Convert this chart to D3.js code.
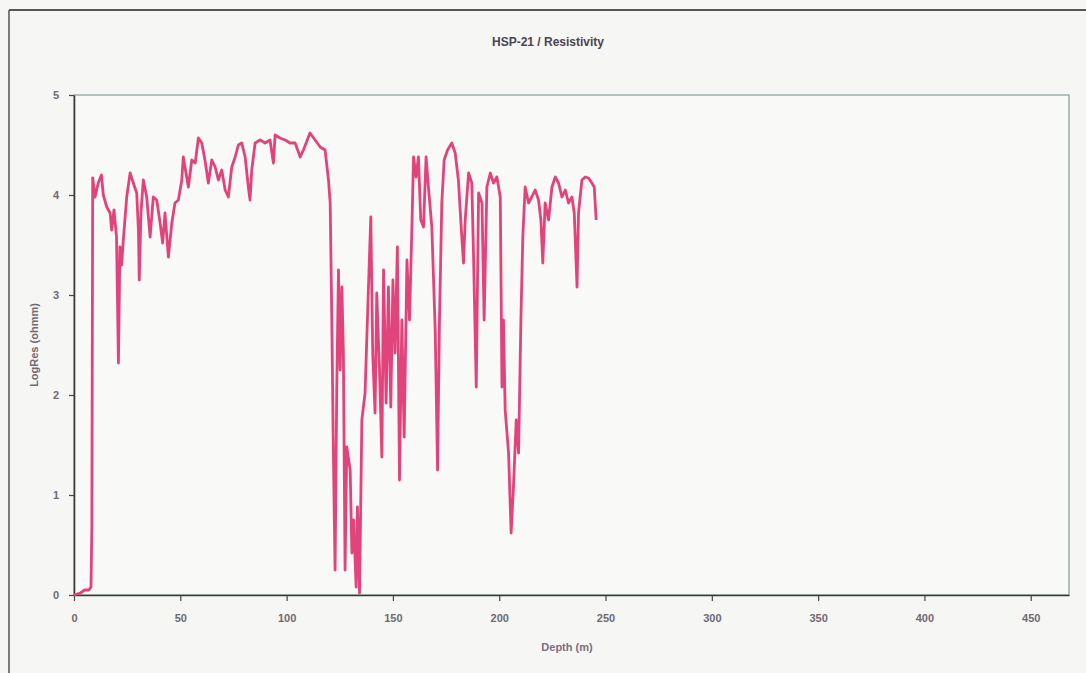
<!DOCTYPE html>
<html>
<head>
<meta charset="UTF-8">
<title>HSP-21 / Resistivity</title>
<script src="https://d3js.org/d3.v7.min.js"></script>
<style>
  body { margin: 0; background: #f6f6f4; }
  svg { display: block; font-family: "Liberation Sans", Arial, sans-serif; }
</style>
</head>
<body>
<svg id="chart"></svg>
<script>
const width = 1086;
const height = 673;
const margins = {top: 95, bottom: 78, left: 74, right: 17};

const depth = [0, 3, 5, 7, 8, 8.4, 8.8, 9.9, 11.4, 12.9, 13.8, 15.4, 17, 17.7, 18.8, 20, 20.9, 21.6, 22.4, 23.2,
  24.8, 26.4, 27.9, 29.5, 30.3, 30.7, 31.5, 32.6, 34.2, 35.8, 37.3, 38.9, 40.5, 41.7, 42.8, 44.4, 46, 47.5, 49.1,
  50.7, 51.4, 53.8, 55.4, 57, 58.5, 60.1, 61.6, 63.2, 64.8, 66.4, 67.9, 69.5, 71.1, 72.6, 74.2, 75.8, 77.3, 78.9,
  80.5, 82, 82.8, 83.6, 85.2, 87.5, 89.9, 92.2, 93.8, 94.6, 96.9, 99.3, 101.6, 104, 106.4, 107.9, 111, 113.4,
  115.8, 118.1, 119.7, 120.5, 121.3, 122, 122.8, 123.6, 124.4, 125.2, 126, 126.7, 127.5, 128.3, 129.9, 130.7,
  131.5, 132.7, 133.3, 134.3, 135.4, 136.9, 138.5, 139.6, 140.5, 141.6, 142.4, 143.7, 144.8, 145.6, 146.8,
  147.9, 149, 150, 151, 152.1, 153.1, 154.2, 155.3, 156.6, 157.8, 158.9, 159.7, 160.9, 162, 163.1, 164.4,
  165.6, 166.7, 168.3, 169.9, 171, 171.9, 173, 174.1, 175.7, 177.7, 179.3, 180.8, 182.4, 183.2, 184, 185.6,
  187.1, 187.9, 189.2, 190.3, 191.9, 192.9, 194.2, 195.8, 197.3, 198.9, 200.5, 201.3, 202, 202.8, 204.4,
  205.6, 206.7, 208, 209.1, 210.2, 211.1, 212.2, 213.8, 215.3, 216.9, 218.5, 219.6, 220.5, 221.6, 223.2,
  224.8, 226.4, 227.9, 229.5, 231.1, 232.6, 234.2, 235.3, 236.6, 237.3, 238.9, 240.5, 242, 243.6, 244.7, 245.6];
const logRes = [0, 0.02, 0.05, 0.05, 0.08, 0.7, 4.17, 3.98, 4.12, 4.2, 4.0, 3.88, 3.82, 3.65, 3.85, 3.58, 2.32, 3.48, 3.3, 3.55,
  3.98, 4.22, 4.12, 4.02, 3.65, 3.15, 3.82, 4.15, 3.98, 3.58, 3.98, 3.95, 3.72, 3.52, 3.82, 3.38, 3.72, 3.92, 3.95,
  4.15, 4.38, 4.08, 4.35, 4.32, 4.57, 4.52, 4.35, 4.12, 4.35, 4.28, 4.15, 4.25, 4.05, 3.98, 4.28, 4.38, 4.5, 4.52,
  4.38, 4.08, 3.95, 4.25, 4.52, 4.55, 4.52, 4.55, 4.32, 4.6, 4.57, 4.55, 4.52, 4.52, 4.38, 4.45, 4.62, 4.55,
  4.48, 4.45, 4.15, 3.92, 2.68, 1.42, 0.25, 2.08, 3.25, 2.25, 3.08, 2.42, 0.25, 1.48, 1.25, 0.42,
  0.75, 0.08, 0.88, 0.02, 1.75, 2.02, 3.08, 3.78, 2.42, 1.82, 3.02, 2.25, 1.38, 3.25, 1.92,
  3.08, 1.88, 3.15, 2.42, 3.48, 1.15, 2.75, 1.58, 3.35, 2.75, 3.65, 4.38, 4.18, 4.38, 3.75, 3.68,
  4.38, 4.08, 3.68, 2.65, 1.25, 2.75, 3.92, 4.35, 4.45, 4.52, 4.42, 4.15, 3.58, 3.32, 3.75, 4.22,
  4.12, 3.42, 2.08, 4.02, 3.92, 2.75, 4.08, 4.22, 4.12, 4.18, 3.98, 2.08, 2.75, 1.85, 1.42,
  0.62, 1.08, 1.75, 1.42, 2.75, 3.58, 4.08, 3.92, 3.98, 4.05, 3.95, 3.75, 3.32, 3.92, 3.75,
  4.08, 4.18, 4.12, 3.98, 4.05, 3.92, 3.98, 3.82, 3.08, 3.82, 4.15, 4.18, 4.17, 4.12, 4.08, 3.75];
const xTicks = [0, 50, 100, 150, 200, 250, 300, 350, 400, 450];
const yTicks = [0, 1, 2, 3, 4, 5];

const data = depth.map((d, i) => ({depth: d, res: logRes[i]}));

const svg = d3.select("#chart")
  .attr("width", width)
  .attr("height", height);

// outer chart border (top and left edges visible in the scan)
svg.append("line")
  .attr("x1", 9).attr("x2", width).attr("y1", 10).attr("y2", 10)
  .attr("stroke", "#555").attr("stroke-width", 2);
svg.append("line")
  .attr("x1", 9).attr("x2", 9).attr("y1", 10).attr("y2", height)
  .attr("stroke", "#555").attr("stroke-width", 1.5);

const x = d3.scaleLinear()
  .domain([0, 468])
  .range([margins.left, width - margins.right]);

const y = d3.scaleLinear()
  .domain([0, 5])
  .range([height - margins.bottom, margins.top]);

// plot area frame
svg.append("rect")
  .attr("x", x(0)).attr("y", y(5))
  .attr("width", x(468) - x(0)).attr("height", y(0) - y(5))
  .attr("fill", "#f9f9f8")
  .attr("stroke", "#8a9a9c").attr("stroke-width", 1.2);

// x-axis
const xAxis = svg.append("g")
  .attr("transform", `translate(0, ${y(0)})`)
  .call(d3.axisBottom(x).tickValues(xTicks).tickSize(6).tickSizeOuter(0).tickPadding(13));

// y-axis
const yAxis = svg.append("g")
  .attr("transform", `translate(${x(0)}, 0)`)
  .call(d3.axisLeft(y).tickValues(yTicks).tickFormat(d3.format("d")).tickSize(5).tickSizeOuter(0).tickPadding(10));

[xAxis, yAxis].forEach(g => {
  g.select(".domain").attr("stroke", "#3a3a3a").attr("stroke-width", 1.6);
  g.selectAll(".tick line").attr("stroke", "#444").attr("stroke-width", 1.2);
  g.selectAll(".tick text")
    .attr("fill", "#6e6a72")
    .style("font-size", "11px")
    .style("font-weight", "bold");
});

// the resistivity curve
const line = d3.line()
  .x(d => x(d.depth))
  .y(d => y(d.res));

svg.append("path")
  .datum(data)
  .attr("fill", "none")
  .attr("stroke", "#e0447a")
  .attr("stroke-width", 2.8)
  .attr("stroke-linejoin", "round")
  .attr("d", line);

// title
svg.append("text")
  .attr("x", 548).attr("y", 46)
  .attr("text-anchor", "middle")
  .attr("fill", "#4a4550")
  .style("font-size", "12px")
  .style("font-weight", "bold")
  .text("HSP-21 / Resistivity");

// x-axis label
svg.append("text")
  .attr("x", 567).attr("y", 651)
  .attr("text-anchor", "middle")
  .attr("fill", "#7a6e80")
  .style("font-size", "11px")
  .style("font-weight", "bold")
  .text("Depth (m)");

// y-axis label
svg.append("text")
  .attr("text-anchor", "middle")
  .attr("transform", `translate(38, ${(y(0) + y(5)) / 2})rotate(-90)`)
  .attr("fill", "#6e6a72")
  .style("font-size", "11px")
  .style("font-weight", "bold")
  .text("LogRes (ohmm)");
</script>
</body>
</html>
